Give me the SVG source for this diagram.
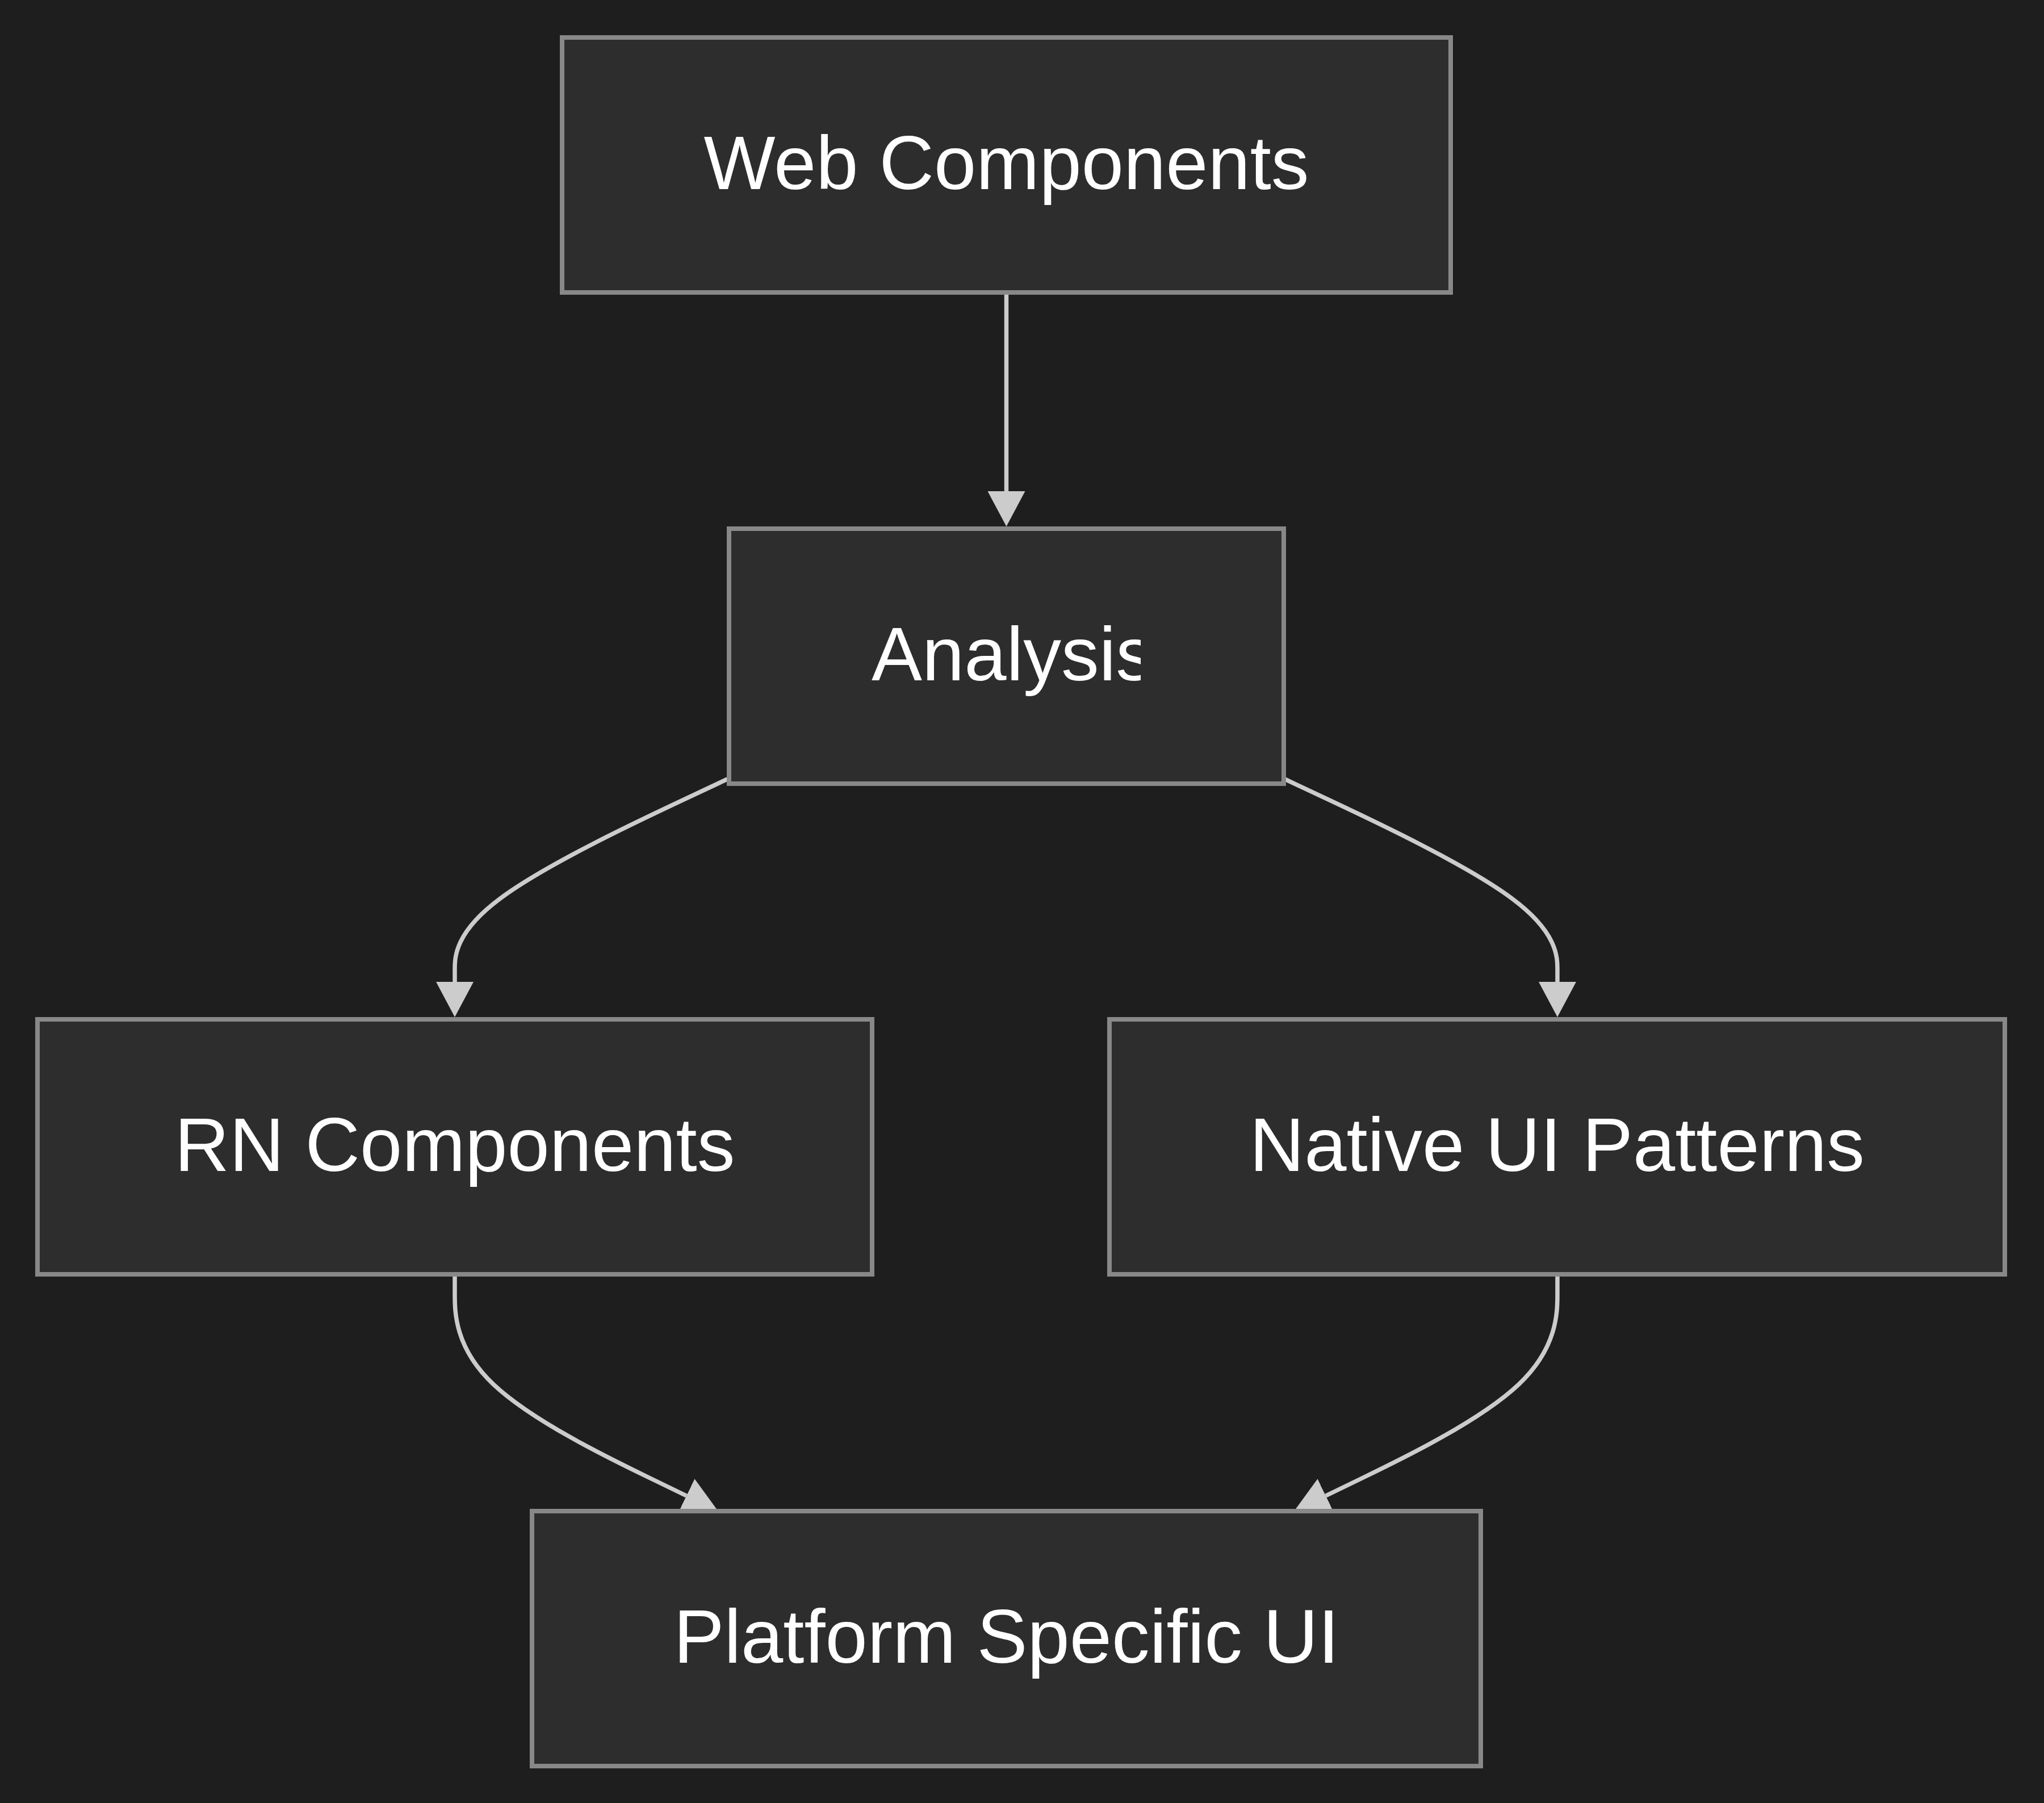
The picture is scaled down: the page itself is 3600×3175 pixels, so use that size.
<svg xmlns="http://www.w3.org/2000/svg" width="3600" height="3175" viewBox="0 0 3600 3175">
<style>
.node rect{fill:#2d2d2d;stroke:#888888;stroke-width:8}
.node text{fill:#ffffff;font-family:"Liberation Sans",Arial,sans-serif;font-size:133.5px;text-anchor:middle}
.edge{fill:none;stroke:#cccccc;stroke-width:7.5}
</style>
<defs>
<marker id="arrow" markerUnits="userSpaceOnUse" viewBox="0 0 62 66" markerWidth="62" markerHeight="66" refX="0" refY="33" orient="auto">
<path d="M0,0 L62,33 L0,66 z" fill="#cccccc"/>
</marker>
<clipPath id="clipAnalysis"><rect x="1527" y="935" width="482" height="440"/></clipPath>
</defs>
<rect x="0" y="0" width="3600" height="3175" fill="#1e1e1e"/>
<g id="connectors">
<path class="edge" marker-end="url(#arrow)" d="M1772.5,519 L1772.5,865"/>
<path class="edge" marker-end="url(#arrow)" d="M1281,1372 L1201,1409.7 C1121,1447.3 961,1522.7 881,1582.2 C801,1641.7 801,1685.3 801,1707.2 L801,1729"/>
<path class="edge" marker-end="url(#arrow)" d="M2263,1372 L2343,1409.7 C2423,1447.3 2583,1522.7 2663,1582.2 C2743,1641.7 2743,1685.3 2743,1707.2 L2743,1729"/>
<path class="edge" marker-end="url(#arrow)" d="M801,2248 L801,2279.3 C801,2310.7 801,2373.3 869,2437.7 C937,2502 1073,2568 1141,2601 L1209,2634"/>
<path class="edge" marker-end="url(#arrow)" d="M2743,2248 L2743,2279.3 C2743,2310.7 2743,2373.3 2675,2437.7 C2607,2502 2471,2568 2403,2601 L2335,2634"/>
</g>
<g id="node-web" class="node">
<rect x="990" y="66" width="1565" height="449"/>
<text x="1772.5" y="333">Web Components</text>
</g>
<g id="node-analysis" class="node">
<rect x="1284" y="931" width="977" height="449"/>
<text x="1535" y="1198" style="text-anchor:start" clip-path="url(#clipAnalysis)">Analysis</text>
</g>
<g id="node-rn" class="node">
<rect x="66" y="1795" width="1470" height="449"/>
<text x="801" y="2062">RN Components</text>
</g>
<g id="node-native" class="node">
<rect x="1954" y="1795" width="1577" height="449"/>
<text x="2742.5" y="2062">Native UI Patterns</text>
</g>
<g id="node-platform" class="node">
<rect x="937" y="2661" width="1671" height="449"/>
<text x="1772.5" y="2928">Platform Specific UI</text>
</g>
</svg>
